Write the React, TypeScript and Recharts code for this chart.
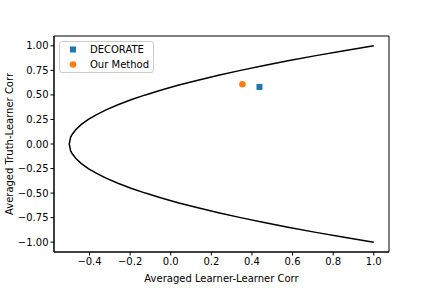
import React from "react";
import {
  ComposedChart,
  Line,
  Scatter,
  XAxis,
  YAxis,
  Label,
  ReferenceArea,
} from "recharts";

// Boundary curve (lower branch -> tip -> upper branch)
const curveX = [
  1.0, 0.854, 0.715, 0.584, 0.46, 0.344, 0.235, 0.134, 0.04, -0.046, -0.125,
  -0.196, -0.26, -0.316, -0.365, -0.406, -0.44, -0.466, -0.485, -0.493, -0.5,
  -0.493, -0.485, -0.466, -0.44, -0.406, -0.365, -0.316, -0.26, -0.196,
  -0.125, -0.046, 0.04, 0.134, 0.235, 0.344, 0.46, 0.584, 0.715, 0.854, 1.0,
];
const curveY = [
  -1.0, -0.95, -0.9, -0.85, -0.8, -0.75, -0.7, -0.65, -0.6, -0.55, -0.5,
  -0.45, -0.4, -0.35, -0.3, -0.25, -0.2, -0.15, -0.1, -0.07, 0.0, 0.07, 0.1,
  0.15, 0.2, 0.25, 0.3, 0.35, 0.4, 0.45, 0.5, 0.55, 0.6, 0.65, 0.7, 0.75,
  0.8, 0.85, 0.9, 0.95, 1.0,
];

const decorateX = [0.437];
const decorateY = [0.581];
const oursX = [0.353];
const oursY = [0.609];

const xTicks = [-0.4, -0.2, 0.0, 0.2, 0.4, 0.6, 0.8, 1.0];
const yTicks = [-1.0, -0.75, -0.5, -0.25, 0.0, 0.25, 0.5, 0.75, 1.0];

const curve = curveX.map((x, i) => ({ x, y: curveY[i] }));
const decorate = decorateX.map((x, i) => ({ x, y: decorateY[i] }));
const ours = oursX.map((x, i) => ({ x, y: oursY[i] }));

const BLUE = "#1f77b4";
const ORANGE = "#ff7f0e";
const FONT = "DejaVu Sans, sans-serif";

const fmt = (v: number, d: number) =>
  v < 0 ? "\u2212" + Math.abs(v).toFixed(d) : v.toFixed(d);

const Square = (props: any) => {
  const { cx, cy } = props;
  return <rect x={cx - 3} y={cy - 3} width={6} height={6} fill={BLUE} />;
};
const Dot = (props: any) => {
  const { cx, cy } = props;
  return <circle cx={cx} cy={cy} r={3.3} fill={ORANGE} />;
};

const LegendBox = () => (
  <div
    style={{
      position: "absolute",
      left: 59,
      top: 41,
      width: 95,
      height: 32,
      border: "1px solid #cccccc",
      borderRadius: 3,
      background: "rgba(255,255,255,0.8)",
      boxSizing: "border-box",
    }}
  >
    <svg width={95} height={32} style={{ position: "absolute", left: -1, top: -1 }}>
      <rect x={11} y={5.5} width={6} height={6} fill={BLUE} />
      <circle cx={14} cy={23.5} r={3.3} fill={ORANGE} />
      <text x={31} y={12} fontFamily={FONT} fontSize={10} fill="#000">
        DECORATE
      </text>
      <text x={31} y={27} fontFamily={FONT} fontSize={10} fill="#000">
        Our Method
      </text>
    </svg>
  </div>
);

export default function App() {
  return (
    <div style={{ position: "absolute", left: 0, top: 0, width: 432, height: 288, background: "#fff" }}>
      <ComposedChart
        width={432}
        height={288}
        margin={{ top: 36, right: 43, bottom: 0, left: 0 }}
      >
        <XAxis
          type="number"
          dataKey="x"
          domain={[-0.575, 1.075]}
          ticks={xTicks}
          allowDataOverflow
          tickFormatter={(v: number) => fmt(v, 1)}
          tick={{ fontSize: 10, fontFamily: FONT, fill: "#000" }}
          tickSize={3.5}
          tickLine={{ stroke: "#000" }}
          axisLine={{ stroke: "#000" }}
          height={36}
        >
          <Label
            value="Averaged Learner-Learner Corr"
            position="insideBottom"
            offset={6}
            style={{ fontSize: 10, fontFamily: FONT, fill: "#000" }}
          />
        </XAxis>
        <YAxis
          type="number"
          dataKey="y"
          domain={[-1.1, 1.1]}
          ticks={yTicks}
          allowDataOverflow
          tickFormatter={(v: number) => fmt(v, 2)}
          tick={{ fontSize: 10, fontFamily: FONT, fill: "#000" }}
          tickSize={3.5}
          tickLine={{ stroke: "#000" }}
          axisLine={{ stroke: "#000" }}
          width={54}
        >
          <Label
            value="Averaged Truth-Learner Corr"
            angle={-90}
            position="insideLeft"
            offset={9}
            style={{ fontSize: 10, fontFamily: FONT, fill: "#000", textAnchor: "middle" }}
          />
        </YAxis>
        <ReferenceArea
          x1={-0.575}
          x2={1.075}
          y1={-1.1}
          y2={1.1}
          stroke="#000"
          strokeWidth={1}
          fill="none"
          fillOpacity={0}
        />
        <Line
          data={curve}
          dataKey="y"
          stroke="#000"
          strokeWidth={1.5}
          dot={false}
          activeDot={false}
          isAnimationActive={false}
          type="linear"
          legendType="none"
        />
        <Scatter
          data={decorate}
          dataKey="y"
          shape={<Square />}
          isAnimationActive={false}
          name="DECORATE"
        />
        <Scatter
          data={ours}
          dataKey="y"
          shape={<Dot />}
          isAnimationActive={false}
          name="Our Method"
        />
      </ComposedChart>
      <LegendBox />
    </div>
  );
}
